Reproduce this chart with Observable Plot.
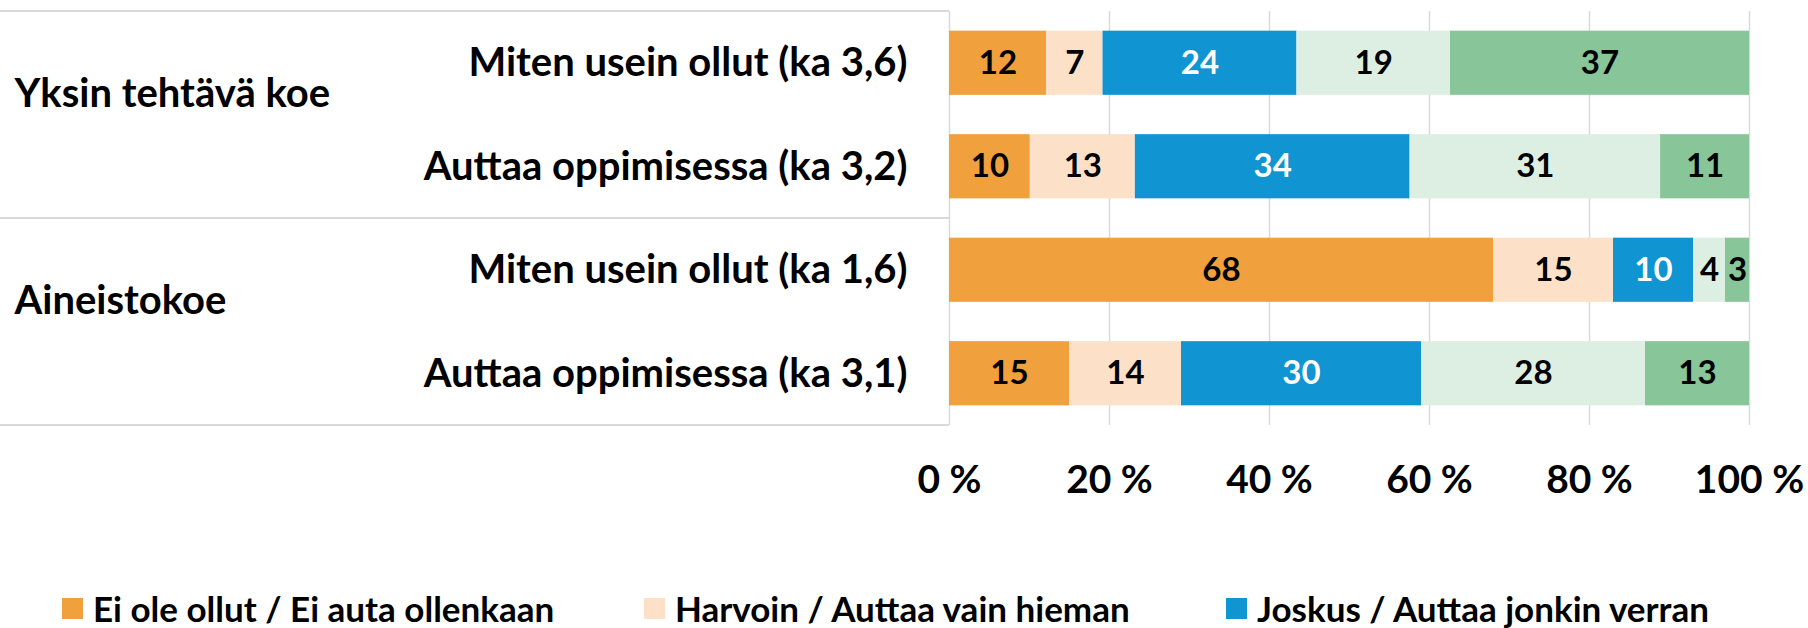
<!DOCTYPE html>
<html>
<head>
<meta charset="utf-8">
<script src="https://cdn.jsdelivr.net/npm/d3@7"></script>
<script src="https://cdn.jsdelivr.net/npm/@observablehq/plot@0.6"></script>
<style>
  html, body { margin: 0; padding: 0; background: #fff; color: #000; overflow: hidden; }
  body { width: 1808px; height: 628px; font-family: Lato, "Open Sans", sans-serif; }
  #chart svg { display: block; }
  #legend { height: 40px; padding-top: 8px; display: flex; align-items: center; padding-left: 62px; }
  .item { width: 593px; display: flex; align-items: center; font-weight: bold; font-size: 35px; white-space: nowrap; }
  .sw { width: 21px; height: 21px; margin-right: 10px; flex: none; }
</style>
</head>
<body>
<div id="chart"></div>
<div id="legend"></div>
<script>
// ---- data ----
const rows = [
  "Miten usein ollut (ka 3,6)",
  "Auttaa oppimisessa (ka 3,2)",
  "Miten usein ollut (ka 1,6)",
  "Auttaa oppimisessa (ka 3,1)"
];
const groups = ["Yksin tehtävä koe", "Aineistokoe"];
const groupFirstRow = [rows[0], rows[2]];
const series = [
  "Ei ole ollut / Ei auta ollenkaan",
  "Harvoin / Auttaa vain hieman",
  "Joskus / Auttaa jonkin verran",
  "Luokka 4",
  "Luokka 5"
];
const legendSeries = series.slice(0, 3);
const s1 = [12, 10, 68, 15];
const s2 = [7, 13, 15, 14];
const s3 = [24, 34, 10, 30];
const s4 = [19, 31, 4, 28];
const s5 = [37, 11, 3, 13];
const seriesValues = [s1, s2, s3, s4, s5];
const colors = ["#F0A03C", "#FCE1C8", "#1094D2", "#DDEEE2", "#88C598"];
const xTicks = [0, 0.2, 0.4, 0.6, 0.8, 1];

const data = [];
series.forEach((s, i) => rows.forEach((r, j) => data.push({row: r, series: s, value: seriesValues[i][j]})));
const groupData = groups.map((g, i) => ({group: g, row: groupFirstRow[i]}));

const H = 580;
const stackOpts = {x: "value", y: "row", z: "series", offset: "normalize", order: series};
const labelStyle = {text: "value", fontSize: 33, fontWeight: "bold"};

const plot = Plot.plot({
  width: 1808,
  height: H,
  marginLeft: 949,
  marginRight: 59,
  marginTop: 11,
  marginBottom: H - 425,
  style: {fontFamily: "Lato, 'Open Sans', sans-serif", color: "#000", background: "#fff"},
  x: {domain: [0, 1]},
  y: {domain: rows, paddingInner: 0.38, paddingOuter: 0.19, round: false},
  color: {domain: series, range: colors},
  marks: [
    Plot.gridX(xTicks, {stroke: "#D9D9D9", strokeOpacity: 1, strokeWidth: 1.5}),
    Plot.barX(data, Plot.stackX({...stackOpts, fill: "series"})),
    Plot.text(data, Plot.filter(d => d.series !== series[2],
      Plot.stackX({...stackOpts, ...labelStyle, fill: "#000"}))),
    Plot.text(data, Plot.filter(d => d.series === series[2],
      Plot.stackX({...stackOpts, ...labelStyle, fill: "#fff"}))),
    Plot.axisX({ticks: xTicks, tickFormat: d => Math.round(d * 100) + " %", tickSize: 0, tickPadding: 40,
      fontSize: 39, fontWeight: "bold", label: null}),
    Plot.axisY({tickSize: 0, tickPadding: 42, fontSize: 40, fontWeight: "bold", label: null}),
    Plot.text(groupData, {y: "row", text: "group", frameAnchor: "left", textAnchor: "start",
      dx: -935, dy: 31, fontSize: 40, fontWeight: "bold", fill: "#000"})
  ]
});
document.getElementById("chart").appendChild(plot);

// left table lines derived from scales
const ys = plot.scale("y"), xs = plot.scale("x");
const half = (ys.step - ys.bandwidth) / 2;
const yLines = [
  ys.apply(rows[0]) - half,
  ys.apply(rows[2]) - half,
  ys.apply(rows[3]) + ys.bandwidth + half
];
const svg = d3.select(plot);
svg.insert("g", ":first-child").attr("class", "table-lines")
  .selectAll("line").data(yLines).join("line")
  .attr("x1", 0).attr("x2", xs.apply(0))
  .attr("y1", d => d).attr("y2", d => d)
  .attr("stroke", "#D9D9D9").attr("stroke-width", 2);

// legend
const legend = d3.select("#legend");
const items = legend.selectAll(".item").data(legendSeries).join("div").attr("class", "item");
items.append("div").attr("class", "sw").style("background", (d, i) => colors[i]);
items.append("span").text(d => d);
</script>
</body>
</html>
